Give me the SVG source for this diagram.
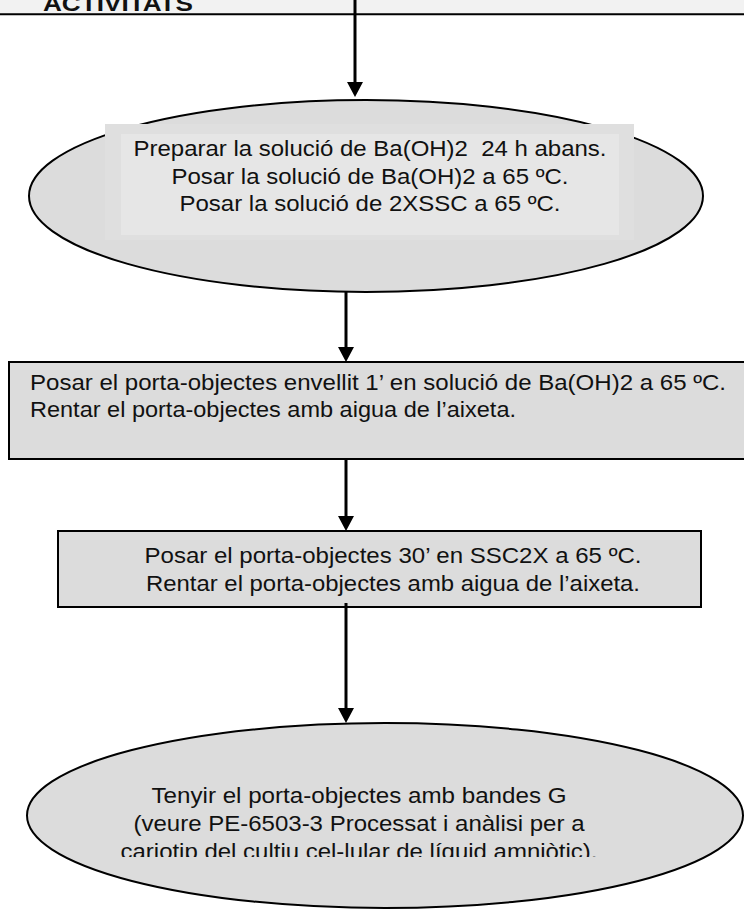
<svg xmlns="http://www.w3.org/2000/svg" width="744" height="912" viewBox="0 0 744 912">
  <style>
    .txt { font-family: "Liberation Sans", Arial, sans-serif; font-size: 22px; fill: #111; }
    .mid { text-anchor: middle; }
    .shape { fill: #dcdcdc; stroke: #000; stroke-width: 2; }
    .conn { stroke: #000; stroke-width: 3; fill: none; marker-end: url(#head); }
  </style>
  <defs>
    <marker id="head" viewBox="0 0 15 16" refX="3" refY="8" markerWidth="15" markerHeight="16" markerUnits="userSpaceOnUse" orient="auto">
      <path d="M0,0 L15,8 L0,16 z" fill="#000"/>
    </marker>
    <clipPath id="lastClip">
      <rect x="0" y="760" width="744" height="97"/>
    </clipPath>
  </defs>

  <rect width="744" height="912" fill="#fff"/>

  <!-- page header band -->
  <g id="header">
    <rect x="0" y="0" width="744" height="14" fill="#f2f2f2"/>
    <line x1="0" y1="14.3" x2="744" y2="14.3" stroke="#000" stroke-width="2"/>
    <text x="43" y="11" class="txt" font-size="23" font-weight="bold" textLength="150" lengthAdjust="spacingAndGlyphs">ACTIVITATS</text>
  </g>

  <!-- step 1: prepare solutions -->
  <g id="n1">
    <ellipse cx="366" cy="196" rx="337" ry="96" class="shape"/>
    <rect x="105" y="124" width="529" height="116" fill="#dfdfdf"/>
    <rect x="121" y="134" width="498" height="101" fill="#e6e6e6"/>
    <text x="370" y="156" class="txt mid" xml:space="preserve" textLength="473" lengthAdjust="spacingAndGlyphs">Preparar la solució de Ba(OH)2  24 h abans.</text>
    <text x="370" y="183.6" class="txt mid" textLength="397" lengthAdjust="spacingAndGlyphs">Posar la solució de Ba(OH)2 a 65 ºC.</text>
    <text x="370" y="211.2" class="txt mid" textLength="381" lengthAdjust="spacingAndGlyphs">Posar la solució de 2XSSC a 65 ºC.</text>
  </g>

  <!-- step 2: Ba(OH)2 treatment -->
  <g id="n2">
    <rect x="9" y="362" width="740" height="97" class="shape"/>
    <text x="30" y="390" class="txt" textLength="696" lengthAdjust="spacingAndGlyphs">Posar el porta-objectes envellit 1’ en solució de Ba(OH)2 a 65 ºC.</text>
    <text x="30" y="417" class="txt" textLength="486" lengthAdjust="spacingAndGlyphs">Rentar el porta-objectes amb aigua de l’aixeta.</text>
  </g>

  <!-- step 3: SSC treatment -->
  <g id="n3">
    <rect x="58" y="531" width="643" height="76" class="shape"/>
    <text x="393" y="563" class="txt mid" textLength="497" lengthAdjust="spacingAndGlyphs">Posar el porta-objectes 30’ en SSC2X a 65 ºC.</text>
    <text x="393" y="590.5" class="txt mid" textLength="494" lengthAdjust="spacingAndGlyphs">Rentar el porta-objectes amb aigua de l’aixeta.</text>
  </g>

  <!-- step 4: G-banding -->
  <g id="n4">
    <ellipse cx="385" cy="815.5" rx="358" ry="92.5" class="shape"/>
    <text x="359" y="803" class="txt mid" textLength="415" lengthAdjust="spacingAndGlyphs">Tenyir el porta-objectes amb bandes G</text>
    <text x="359" y="830.6" class="txt mid" textLength="451" lengthAdjust="spacingAndGlyphs">(veure PE-6503-3 Processat i anàlisi per a</text>
    <g clip-path="url(#lastClip)">
      <text x="359" y="858.5" class="txt mid" textLength="477" lengthAdjust="spacingAndGlyphs">cariotip del cultiu cel-lular de líquid amniòtic).</text>
    </g>
  </g>

  <!-- connectors -->
  <g id="connectors">
    <line x1="355" y1="0" x2="355" y2="85" class="conn"/>
    <line x1="346" y1="292" x2="346" y2="350" class="conn"/>
    <line x1="346" y1="459" x2="346" y2="519" class="conn"/>
    <line x1="346" y1="603" x2="346" y2="711" class="conn"/>
  </g>
</svg>
